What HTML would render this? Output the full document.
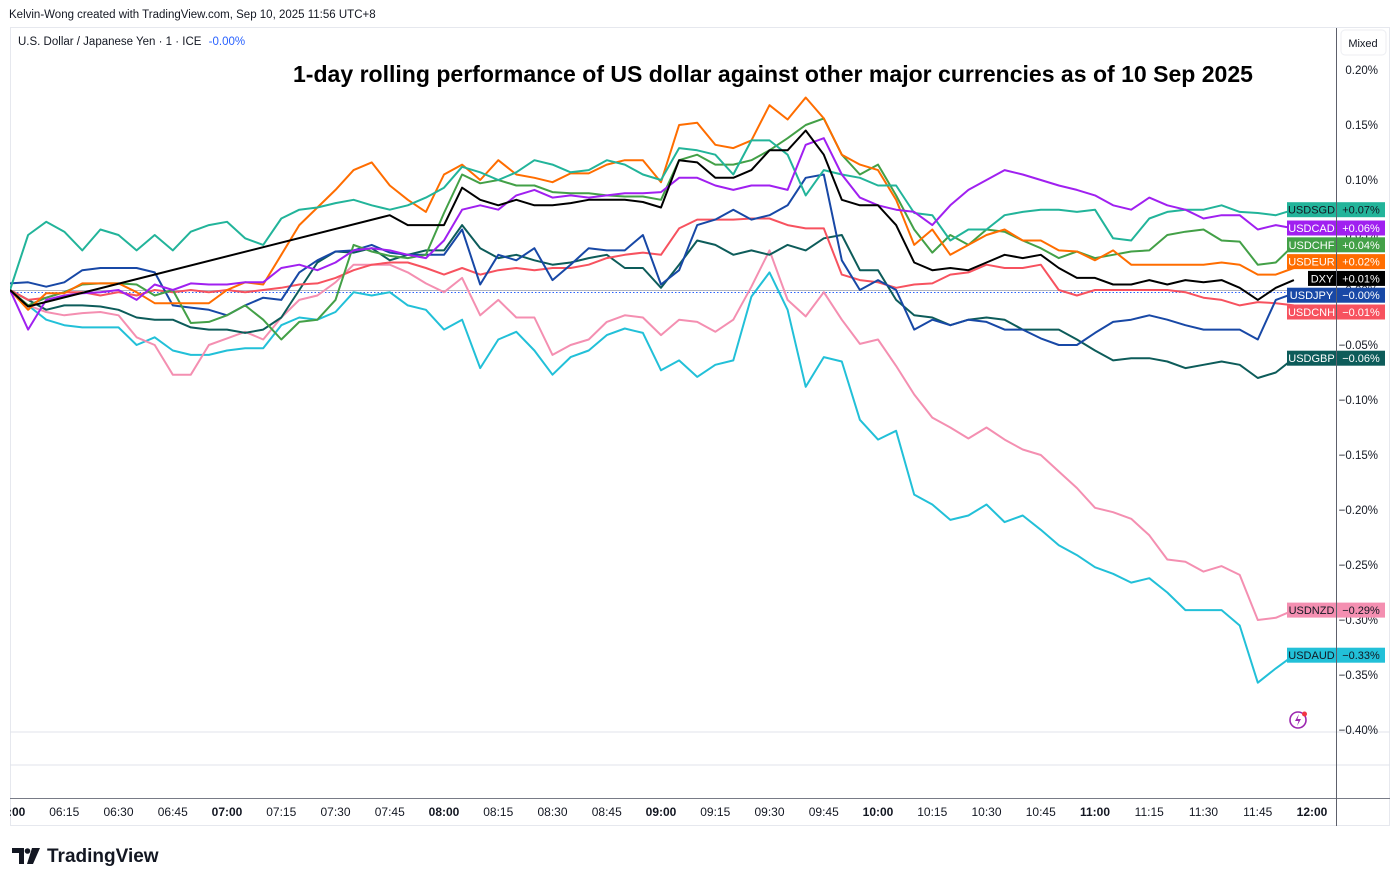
<!DOCTYPE html>
<html><head><meta charset="utf-8">
<style>
html,body{margin:0;padding:0;background:#fff;}
body{width:1400px;height:884px;overflow:hidden;font-family:"Liberation Sans",sans-serif;}
svg text{font-family:"Liberation Sans",sans-serif;}
</style></head>
<body>
<svg id="chart" width="1400" height="884" viewBox="0 0 1400 884" xmlns="http://www.w3.org/2000/svg">
  <text x="9" y="18" font-size="11.5" fill="#131722">Kelvin-Wong created with TradingView.com, Sep 10, 2025 11:56 UTC+8</text>
  <rect x="10.5" y="27.5" width="1379" height="798" fill="none" stroke="#e6e8ee"/>
  <line x1="10" y1="732" x2="1390" y2="732" stroke="#e0e3eb"/>
  <line x1="10" y1="765" x2="1390" y2="765" stroke="#e0e3eb"/>
  <line x1="10" y1="798.5" x2="1390" y2="798.5" stroke="#787b86" stroke-width="1"/>
  <line x1="1336.5" y1="28" x2="1336.5" y2="826" stroke="#5d606b" stroke-width="1"/>
  <g id="yaxis"></g>
  <g id="xaxis"></g>
  <line x1="10" y1="290.5" x2="1336" y2="290.5" stroke="#b2b5be" stroke-width="1"/>
  <line x1="10" y1="292.5" x2="1336" y2="292.5" stroke="#2962ff" stroke-width="1" stroke-dasharray="1.5 2"/>
  <clipPath id="pane"><rect x="10" y="28" width="1326" height="703"/></clipPath>
  <g id="series" clip-path="url(#pane)"></g>
  <g id="badges"></g>
  <text x="18" y="45" font-size="11.5" fill="#131722">U.S. Dollar / Japanese Yen · 1 · ICE <tspan fill="#2962ff" dx="4">-0.00%</tspan></text>
  <text x="773" y="82" font-size="23" font-weight="bold" text-anchor="middle" fill="#000" textLength="960" lengthAdjust="spacingAndGlyphs">1-day rolling performance of US dollar against other major currencies as of 10 Sep 2025</text>
  <g>
    <rect x="1341" y="30" width="45" height="25" rx="4" fill="#fff" stroke="#eceef2"/>
    <text x="1363" y="47" font-size="11" text-anchor="middle" fill="#131722">Mixed</text>
  </g>
  <g>
    <circle cx="1298" cy="720" r="8" fill="none" stroke="#9c27b0" stroke-width="1.6"/>
    <path d="M1299 714 L1295 721 L1298.5 721 L1297 726 L1301 719 L1297.5 719 Z" fill="#9c27b0"/>
    <circle cx="1304.5" cy="714" r="2.5" fill="#f23645"/>
  </g>
  <g>
    <path d="M12 848 H24 V864 H19 V853 H12 Z" fill="#131722"/>
    <circle cx="27.5" cy="851" r="2.8" fill="#131722"/>
    <path d="M32 848 H40 L33 864 H27 Z" fill="#131722"/>
    <text x="47" y="862" font-size="19" font-weight="bold" fill="#131722">TradingView</text>
  </g>
</svg>
<script>
// ---------- data (values in percent) ----------
const times = []; // minutes after 06:00, 5-minute sampling
for (let i = 0; i < 72; i++) times.push(i * 5);

const yTicks = [0.20, 0.15, 0.10, 0.05, 0, -0.05, -0.10, -0.15, -0.20, -0.25, -0.30, -0.35, -0.40];
const xTickLabels = ["06:00","06:15","06:30","06:45","07:00","07:15","07:30","07:45","08:00","08:15","08:30","08:45","09:00","09:15","09:30","09:45","10:00","10:15","10:30","10:45","11:00","11:15","11:30","11:45","12:00"];

const seriesNames = ["USDSGD","USDCAD","USDCHF","USDEUR","DXY","USDJPY","USDCNH","USDGBP","USDNZD","USDAUD"];
const seriesColors = ["#22b49a","#a020f0","#43a047","#ff6d00","#000000","#1848a6","#f7525f","#0d5c5a","#f48fb1","#22c0d8"];
const lastLabels = ["+0.07%","+0.06%","+0.04%","+0.02%","+0.01%","\u22120.00%","\u22120.01%","\u22120.06%","\u22120.29%","\u22120.33%"];

const usdsgd = [0,.050,.062,.053,.036,.055,.050,.036,.050,.036,.053,.059,.062,.047,.041,.065,.073,.075,.079,.082,.077,.073,.077,.084,.093,.112,.107,.100,.107,.118,.114,.107,.109,.118,.114,.105,.100,.129,.127,.123,.105,.136,.136,.123,.086,.109,.105,.102,.095,.095,.070,.068,.045,.055,.055,.068,.071,.073,.073,.071,.073,.047,.045,.065,.071,.073,.073,.077,.071,.070,.068,.073];
const usdcad = [0,-.036,-.009,-.005,-.003,-.002,0,-.009,.005,0,.006,.005,.005,.007,.007,.020,.023,.018,.025,.036,.038,.036,.032,.029,.045,.073,.077,.073,.086,.091,.084,.086,.084,.086,.088,.088,.089,.102,.102,.095,.091,.095,.095,.091,.132,.138,.105,.084,.077,.073,.071,.059,.077,.091,.100,.109,.105,.100,.095,.091,.086,.077,.073,.084,.077,.073,.065,.068,.068,.055,.059,.056];
const usdchf = [0,-.014,-.007,-.002,.005,.006,.006,.005,-.005,0,-.030,-.029,-.023,-.014,-.027,-.045,-.029,-.027,-.009,.041,.035,.031,.029,.032,.070,.105,.097,.100,.095,.095,.089,.088,.088,.086,.085,.085,.082,.118,.123,.114,.114,.118,.127,.138,.150,.156,.123,.105,.114,.086,.055,.034,.050,.041,.055,.053,.045,.038,.029,.035,.029,.032,.035,.036,.050,.053,.055,.045,.044,.023,.025,.041];
const usdeur = [0,-.018,-.003,-.003,.006,.006,.006,-.002,-.012,-.012,-.012,-.012,0,.007,.005,.032,.059,.075,.091,.109,.116,.095,.082,.071,.105,.114,.100,.118,.105,.102,.098,.106,.106,.114,.118,.118,.098,.150,.152,.132,.129,.136,.168,.155,.175,.156,.123,.114,.109,.082,.041,.055,.032,.041,.050,.055,.045,.045,.036,.035,.027,.036,.023,.023,.023,.023,.023,.025,.023,.014,.014,.020];
const dxy = [0,-.015,null,null,null,null,null,null,null,null,null,null,null,null,null,null,null,null,null,null,null,.068,.059,.059,.059,.093,.082,.077,.082,.077,.077,.079,.082,.082,.082,.080,.075,.118,.116,.102,.102,.109,.127,.127,.145,.123,.082,.077,.077,.059,.025,.018,.020,.018,.025,.032,.029,.032,.020,.011,.011,.005,.005,.009,.005,.009,.007,.009,.002,-.009,.002,.009];
const usdjpy = [.006,.007,.003,.007,.018,.020,.020,.020,.016,-.014,-.016,-.018,-.023,-.014,-.007,-.009,.016,.027,.035,.036,.041,.034,.032,.032,.032,.055,.005,.032,.027,.038,.009,.023,.038,.036,.036,.050,.005,.018,.059,.064,.073,.064,.068,.077,.102,.105,.027,0,.009,0,-.036,-.027,-.032,-.027,-.029,-.036,-.036,-.044,-.050,-.050,-.039,-.029,-.027,-.023,-.027,-.032,-.036,-.036,-.036,-.045,-.009,-.003];
const usdcnh = [0,-.009,-.007,-.002,-.002,-.005,-.002,-.005,0,-.002,0,-.002,0,-.002,0,.002,.005,.006,.011,.018,.023,.025,.025,.020,.014,.020,.014,.018,.020,.018,.020,.020,.023,.029,.032,.034,.032,.056,.064,.064,.064,.065,.065,.059,.056,.056,.014,.009,.007,.002,.005,.006,.014,.016,.023,.020,.020,.023,0,-.005,0,0,0,0,0,-.002,-.007,-.009,-.014,-.011,-.012,-.014];
const usdgbp = [0,-.009,-.018,-.014,-.014,-.015,-.018,-.025,-.027,-.027,-.034,-.036,-.036,-.039,-.036,-.025,0,.025,.035,.034,.038,.027,.032,.036,.036,.059,.038,.029,.032,.027,.023,.025,.029,.032,.020,.020,.002,.023,.045,.041,.032,.036,.032,.041,.036,.047,.050,.018,.018,-.009,-.023,-.025,-.032,-.027,-.025,-.027,-.036,-.036,-.036,-.045,-.055,-.064,-.062,-.062,-.065,-.071,-.068,-.065,-.068,-.080,-.075,-.062];
const usdnzd = [0,-.014,-.020,-.023,-.021,-.020,-.023,-.043,-.050,-.077,-.077,-.050,-.044,-.038,-.045,-.025,-.009,-.005,.007,.023,.023,.023,.016,.006,-.002,.011,-.023,-.009,-.025,-.025,-.059,-.050,-.045,-.029,-.023,-.025,-.041,-.027,-.029,-.038,-.027,.003,.036,-.009,-.024,-.002,-.027,-.049,-.045,-.069,-.095,-.116,-.125,-.135,-.125,-.136,-.145,-.150,-.165,-.180,-.198,-.202,-.208,-.223,-.245,-.247,-.256,-.251,-.259,-.300,-.298,-.291];
const usdaud = [0,-.014,-.027,-.032,-.034,-.034,-.034,-.050,-.043,-.055,-.059,-.059,-.055,-.053,-.053,-.032,-.025,-.027,-.020,-.002,-.005,-.002,-.014,-.018,-.036,-.027,-.071,-.045,-.038,-.055,-.077,-.061,-.055,-.041,-.035,-.039,-.073,-.064,-.079,-.068,-.064,-.006,.016,-.018,-.088,-.061,-.065,-.118,-.136,-.128,-.186,-.195,-.209,-.205,-.195,-.211,-.205,-.218,-.232,-.241,-.252,-.258,-.266,-.262,-.275,-.291,-.291,-.291,-.305,-.357,-.344,-.332];

const seriesValues = [usdsgd, usdcad, usdchf, usdeur, dxy, usdjpy, usdcnh, usdgbp, usdnzd, usdaud];

// ---------- axes ----------
const NS = "http://www.w3.org/2000/svg";
function xScale(min) { return 10 + min * (1302 / 360); }
function yScale(v) { return 290 - v * 1100; }
function mk(tag, attrs, parent) {
  const el = document.createElementNS(NS, tag);
  for (const k in attrs) el.setAttribute(k, attrs[k]);
  parent.appendChild(el);
  return el;
}

const yAxis = document.getElementById("yaxis");
yTicks.forEach(v => {
  const t = mk("text", {x: 1378, y: yScale(v) + 4, "font-size": 11.5, "text-anchor": "end", fill: "#131722"}, yAxis);
  
  
  const s = v.toFixed(2);
  t.textContent = (v < 0 ? "\u2212" + s.slice(1) : s) + "%";
});

const xAxis = document.getElementById("xaxis");
xTickLabels.forEach((lab, i) => {
  const x = xScale(i * 15);
  const isHour = lab.endsWith(":00");
  const t = mk("text", {x: x, y: 816, "font-size": 12, "text-anchor": "middle", fill: "#131722", "font-weight": isHour ? "bold" : "normal"}, xAxis);
  
  
  t.textContent = lab;
});
const xClip = mk("rect", {x: 0, y: 800, width: 10, height: 24, fill: "#fff"}, xAxis);



// ---------- series ----------
const sg = document.getElementById("series");
const drawOrder = [9, 8, 7, 6, 5, 2, 3, 0, 1, 4];
drawOrder.forEach(si => {
  const vals = seriesValues[si];
  let d = "";
  vals.forEach((v, i) => {
    if (v === null || v === undefined) return;
    d += (d ? " L" : "M") + xScale(times[i]).toFixed(1) + " " + yScale(v).toFixed(1);
  });
  const p = mk("path", {d: d, fill: "none", stroke: seriesColors[si], "stroke-width": 2, "stroke-linejoin": "round"}, sg);
  
  
});

// ---------- last-value badges (cluster-centred overlap resolution) ----------
const bg = document.getElementById("badges");
const GAP = 16.8;
const order = seriesValues.map((v, i) => i).sort((a, b) =>
  yScale(seriesValues[a][seriesValues[a].length - 1]) - yScale(seriesValues[b][seriesValues[b].length - 1]));
let clusters = order.map(si => ({ids: [si], ideal: [yScale(seriesValues[si][seriesValues[si].length - 1])]}));
function start(c) { const m = c.ideal.reduce((a, b) => a + b, 0) / c.ideal.length; return m - (c.ids.length - 1) * GAP / 2; }
let merged = true;
while (merged) {
  merged = false;
  for (let i = 0; i < clusters.length - 1; i++) {
    const a = clusters[i], b = clusters[i + 1];
    if (start(a) + a.ids.length * GAP > start(b)) {
      clusters.splice(i, 2, {ids: a.ids.concat(b.ids), ideal: a.ideal.concat(b.ideal)});
      merged = true; break;
    }
  }
}
clusters.forEach(c => {
  const s0 = start(c);
  c.ids.forEach((si, k) => {
    const cy = s0 + k * GAP;
    const g = mk("g", {}, bg);
    
    
    const nameW = seriesNames[si] === "DXY" ? 28 : 49;
    mk("rect", {x: 1336 - nameW, y: cy - 7.5, width: nameW, height: 15, fill: seriesColors[si]}, g);
    mk("rect", {x: 1337, y: cy - 7.5, width: 48, height: 15, fill: seriesColors[si]}, g);
    const light = seriesNames[si] === "USDSGD" || seriesNames[si] === "USDNZD" || seriesNames[si] === "USDAUD";
    const tc = light ? "#131722" : "#ffffff";
    const n = mk("text", {x: 1336 - nameW / 2, y: cy + 4, "font-size": 11, "text-anchor": "middle", fill: tc}, g);
    n.textContent = seriesNames[si];
    const vt = mk("text", {x: 1361, y: cy + 4, "font-size": 11, "text-anchor": "middle", fill: tc}, g);
    vt.textContent = lastLabels[si];
  });
});
</script>
</body></html>
